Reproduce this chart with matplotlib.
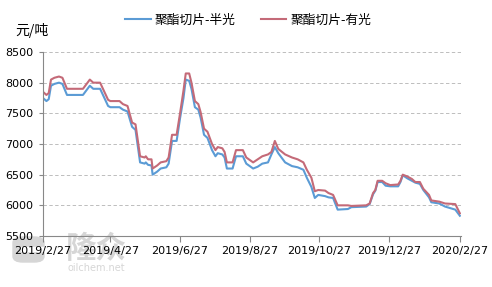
import numpy as np
import pandas as pd
import matplotlib
matplotlib.use("Agg")
import matplotlib.pyplot as plt
from matplotlib.patches import FancyBboxPatch, Rectangle

plt.rcParams['font.family'] = ['DejaVu Sans', 'Noto Sans CJK SC']

dates = [
    "2019-02-27", "2019-03-02", "2019-03-04", "2019-03-06", "2019-03-09", "2019-03-13",
    "2019-03-16", "2019-03-20", "2019-04-03", "2019-04-07", "2019-04-09", "2019-04-12",
    "2019-04-18", "2019-04-25", "2019-04-27", "2019-05-05", "2019-05-08", "2019-05-12",
    "2019-05-16", "2019-05-19", "2019-05-23", "2019-05-27", "2019-05-28", "2019-05-30",
    "2019-06-02", "2019-06-03", "2019-06-07", "2019-06-10", "2019-06-15", "2019-06-17",
    "2019-06-20", "2019-06-24", "2019-06-27", "2019-06-30", "2019-07-02", "2019-07-05",
    "2019-07-07", "2019-07-10", "2019-07-13", "2019-07-15", "2019-07-18", "2019-07-21",
    "2019-07-25", "2019-07-28", "2019-07-30", "2019-08-03", "2019-08-05", "2019-08-07",
    "2019-08-12", "2019-08-15", "2019-08-21", "2019-08-24", "2019-08-30", "2019-09-03",
    "2019-09-07", "2019-09-12", "2019-09-15", "2019-09-18", "2019-09-21", "2019-09-27",
    "2019-10-03", "2019-10-08", "2019-10-13", "2019-10-16", "2019-10-20", "2019-10-23",
    "2019-10-26", "2019-11-01", "2019-11-04", "2019-11-08", "2019-11-12", "2019-11-21",
    "2019-11-24", "2019-12-07", "2019-12-10", "2019-12-13", "2019-12-15", "2019-12-17",
    "2019-12-21", "2019-12-24", "2019-12-28", "2020-01-04", "2020-01-06", "2020-01-08",
    "2020-01-12", "2020-01-16", "2020-01-19", "2020-01-23", "2020-01-26", "2020-01-31",
    "2020-02-02", "2020-02-09", "2020-02-14", "2020-02-23", "2020-02-27",
]

semi_dull = [  # 聚酯切片-半光
    7750, 7700, 7730, 7950, 7980, 8000, 7980, 7800, 7800, 7900, 7950, 7900,
    7900, 7620, 7600, 7600, 7560, 7530, 7280, 7230, 6700, 6680, 6700, 6660,
    6650, 6500, 6550, 6600, 6620, 6680, 7050, 7050, 7420, 7750, 8050, 8030,
    7900, 7600, 7560, 7430, 7150, 7100, 6900, 6800, 6850, 6830, 6780, 6600,
    6600, 6800, 6800, 6680, 6600, 6630, 6680, 6700, 6830, 6950, 6850, 6700,
    6640, 6620, 6580, 6450, 6300, 6120, 6170, 6150, 6130, 6120, 5930, 5940,
    5970, 5980, 6020, 6180, 6240, 6380, 6380, 6320, 6310, 6310, 6380, 6490,
    6440, 6400, 6370, 6350, 6250, 6130, 6050, 6030, 5980, 5930, 5830,
]

bright = [  # 聚酯切片-有光
    7850, 7800, 7830, 8050, 8080, 8100, 8080, 7900, 7900, 8000, 8050, 8000,
    8000, 7720, 7700, 7700, 7650, 7620, 7350, 7320, 6800, 6780, 6800, 6750,
    6750, 6600, 6650, 6700, 6720, 6780, 7150, 7150, 7500, 7870, 8150, 8150,
    8000, 7700, 7650, 7520, 7250, 7200, 7000, 6900, 6950, 6930, 6870, 6700,
    6700, 6900, 6900, 6780, 6700, 6750, 6800, 6830, 6870, 7050, 6920, 6830,
    6780, 6750, 6700, 6580, 6450, 6230, 6250, 6240, 6200, 6170, 6000, 6000,
    5990, 6000, 6030, 6200, 6250, 6400, 6400, 6360, 6330, 6340, 6400, 6500,
    6470, 6430, 6380, 6380, 6270, 6170, 6080, 6060, 6030, 6020, 5870,
]

tick_dates = ["2019-02-27", "2019-04-27", "2019-06-27", "2019-08-27",
              "2019-10-27", "2019-12-27", "2020-02-27"]
tick_labels = ["2019/2/27", "2019/4/27", "2019/6/27", "2019/8/27",
               "2019/10/27", "2019/12/27", "2020/2/27"]

x = pd.to_datetime(dates)
cjk = ["Noto Sans CJK SC", "DejaVu Sans"]

fig = plt.figure(figsize=(4.92, 2.87), dpi=100)
ax = fig.add_axes([43 / 492, 1 - 236 / 287, 418 / 492, 184 / 287])
ax.patch.set_alpha(0)

ax.plot(x, semi_dull, color="#5b9bd5", lw=1.5, label="聚酯切片-半光")
ax.plot(x, bright, color="#c46a78", lw=1.5, label="聚酯切片-有光")

ax.set_ylim(5500, 8500)
ax.set_yticks(np.arange(5500, 8501, 500))
ax.set_xlim(pd.Timestamp("2019-02-27"), pd.Timestamp("2020-02-28"))
ax.set_xticks(pd.to_datetime(tick_dates))
ax.set_xticklabels(tick_labels)

ax.grid(axis="y", color="#bdbdbd", linestyle=(0, (3.5, 2.5)), lw=0.7)
ax.set_axisbelow(True)
for s in ["top", "right"]:
    ax.spines[s].set_visible(False)
for s in ["left", "bottom"]:
    ax.spines[s].set_color("#888888")
ax.tick_params(axis="both", colors="#888888", labelcolor="black", labelsize=8)
ax.tick_params(axis="x", length=4, pad=3)
ax.tick_params(axis="y", length=3, pad=4)

fig.text(15 / 492, 1 - 30 / 287, "元/吨", fontsize=10, va="center", ha="left",
         family=cjk)

fig.legend(loc="center", bbox_to_anchor=(248 / 492, 1 - 20 / 287), ncol=2,
           frameon=False, handlelength=2.0, handletextpad=0.3, columnspacing=2.0,
           prop={"family": cjk, "size": 9.2})

# watermark
wm = "#d6d6d6"
fig.patches.append(FancyBboxPatch((13 / 492, 1 - 262 / 287), 31 / 492, 25 / 287,
                                  boxstyle="round,pad=0,rounding_size=0.02",
                                  transform=fig.transFigure, color=wm, zorder=-2))
fig.patches.append(Rectangle((21 / 492, 1 - 251 / 287), 23 / 492, 4 / 287,
                             transform=fig.transFigure, color="white", zorder=-1))
fig.text(96 / 492, 1 - 249 / 287, "隆众", fontsize=22, fontweight="bold", color=wm,
         ha="center", va="center", family=["Noto Sans CJK SC"], zorder=-1)
fig.text(96 / 492, 1 - 268 / 287, "oilchem.net", fontsize=7, color=wm,
         ha="center", va="center", zorder=-1)

fig.savefig("out.png", dpi=100)
